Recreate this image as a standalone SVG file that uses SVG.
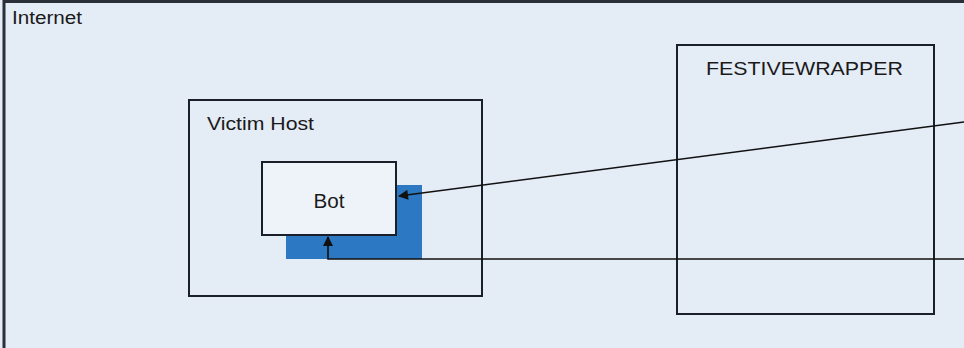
<svg xmlns="http://www.w3.org/2000/svg" width="964" height="348" viewBox="0 0 964 348">
  <defs>
    <style>
      .box { fill: none; stroke: #1a1f2a; stroke-width: 2; }
      .lbl { font-family: "Liberation Sans", Arial, sans-serif; fill: #1a1a1a; }
      .conn { stroke: #111; stroke-width: 1.6; fill: none; }
    </style>
    <marker id="arr" viewBox="0 0 10 10" refX="9" refY="5" markerWidth="11" markerHeight="10" markerUnits="userSpaceOnUse" orient="auto">
      <path d="M0,0 L10,5 L0,10 Z" fill="#111"/>
    </marker>
    <marker id="arrBig" viewBox="0 0 10 10" refX="9" refY="5" markerWidth="13" markerHeight="10" markerUnits="userSpaceOnUse" orient="auto">
      <path d="M0,0 L10,5 L0,10 Z" fill="#111"/>
    </marker>
  </defs>
  <rect x="0" y="0" width="964" height="348" fill="#e4ecf6"/>
  <g id="internet">
    <path d="M4,348 V1.5 H964" fill="none" stroke="#2a2f38" stroke-width="3"/>
    <text class="lbl" x="12" y="24" font-size="18" textLength="70" lengthAdjust="spacingAndGlyphs">Internet</text>
  </g>
  <g id="victim-host">
    <rect class="box" x="189" y="100" width="293" height="196"/>
    <text class="lbl" x="207" y="130" font-size="19" textLength="107" lengthAdjust="spacingAndGlyphs">Victim Host</text>
  </g>
  <g id="festivewrapper">
    <rect class="box" x="677" y="45" width="257" height="269"/>
    <text class="lbl" x="706" y="75" font-size="19" textLength="197" lengthAdjust="spacingAndGlyphs">FESTIVEWRAPPER</text>
  </g>
  <g id="bot-shadow">
    <rect x="286" y="185" width="136" height="74" fill="#2c78c2"/>
  </g>
  <g id="bot">
    <rect x="262" y="162" width="134" height="73" fill="#eef3fa" stroke="#1a1f2a" stroke-width="2"/>
    <text class="lbl" x="329" y="208" font-size="20" text-anchor="middle" textLength="31" lengthAdjust="spacingAndGlyphs">Bot</text>
  </g>
  <g id="connectors">
    <line class="conn" x1="964" y1="122" x2="399" y2="196" marker-end="url(#arrBig)"/>
    <polyline class="conn" points="964,259 328,259 328,237" marker-end="url(#arr)"/>
  </g>
</svg>
